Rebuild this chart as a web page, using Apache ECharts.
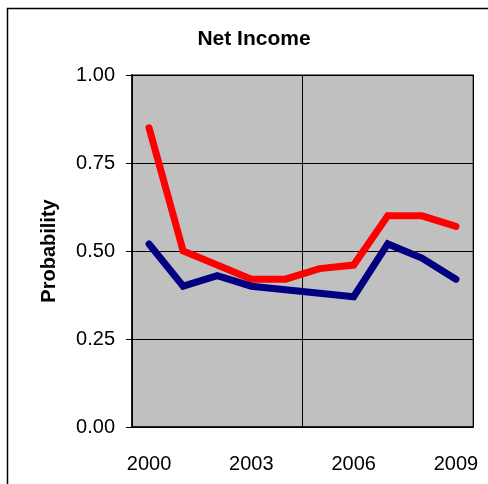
<!DOCTYPE html>
<html>
<head>
<meta charset="utf-8">
<script src="https://cdn.jsdelivr.net/npm/echarts@6/dist/echarts.min.js"></script>
<style>
  html, body { margin: 0; padding: 0; background: #fff; }
  #chart { width: 488px; height: 484px; }
</style>
</head>
<body>
<div id="chart"></div>
<script>
  var years = ['2000', '2001', '2002', '2003', '2004', '2005', '2006', '2007', '2008', '2009']
  var redSeries = [0.85, 0.50, 0.46, 0.42, 0.42, 0.45, 0.46, 0.60, 0.60, 0.57]
  var blueSeries = [0.52, 0.40, 0.43, 0.40, 0.39, 0.38, 0.37, 0.52, 0.48, 0.42]
  var yTicks = [0, 0.25, 0.5, 0.75, 1]

  var chart = echarts.init(document.getElementById('chart'))
  var font = 'Liberation Sans, Arial, sans-serif'

  chart.setOption({
    backgroundColor: '#ffffff',
    animation: false,
    title: {
      text: 'Net Income',
      left: 249,
      textAlign: 'center',
      top: 24,
      textStyle: { fontFamily: font, fontWeight: 'bold', fontSize: 21, color: '#000' }
    },
    graphic: [{
      type: 'rect',
      shape: { x: 7.5, y: 8.5, width: 500, height: 500 },
      style: { fill: 'none', stroke: '#000', lineWidth: 1.5 },
      silent: true
    }],
    grid: {
      left: 132,
      top: 75,
      right: 15,
      bottom: 57,
      show: true,
      backgroundColor: '#c0c0c0',
      borderColor: '#808080',
      borderWidth: 2
    },
    xAxis: {
      type: 'category',
      data: years,
      boundaryGap: true,
      axisLine: { lineStyle: { color: '#000', width: 1.5 } },
      axisTick: { interval: 4, length: 6, lineStyle: { color: '#000' } },
      axisLabel: {
        interval: 2,
        margin: 27,
        fontFamily: font,
        fontSize: 20,
        color: '#000'
      },
      splitLine: { show: true, interval: 4, lineStyle: { color: '#000', width: 1 } }
    },
    yAxis: {
      type: 'value',
      min: yTicks[0],
      max: yTicks[yTicks.length - 1],
      interval: 0.25,
      name: 'Probability',
      nameLocation: 'middle',
      nameGap: 73,
      nameTextStyle: { fontFamily: font, fontWeight: 'bold', fontSize: 20, color: '#000' },
      axisLine: { show: true, lineStyle: { color: '#000', width: 1.5 } },
      axisTick: { show: true, length: 6, lineStyle: { color: '#000' } },
      axisLabel: {
        margin: 17,
        fontFamily: font,
        fontSize: 20,
        color: '#000',
        formatter: function (v) { return v.toFixed(2) }
      },
      splitLine: { show: true, lineStyle: { color: '#000', width: 1 } }
    },
    series: [
      {
        name: 'Red',
        type: 'line',
        data: redSeries,
        showSymbol: false,
        symbol: 'none',
        lineStyle: { color: '#ff0000', width: 7, cap: 'round', join: 'miter' },
        itemStyle: { color: '#ff0000' }
      },
      {
        name: 'Blue',
        type: 'line',
        data: blueSeries,
        showSymbol: false,
        symbol: 'none',
        lineStyle: { color: '#000080', width: 7, cap: 'round', join: 'miter' },
        itemStyle: { color: '#000080' }
      }
    ]
  })
</script>
</body>
</html>
